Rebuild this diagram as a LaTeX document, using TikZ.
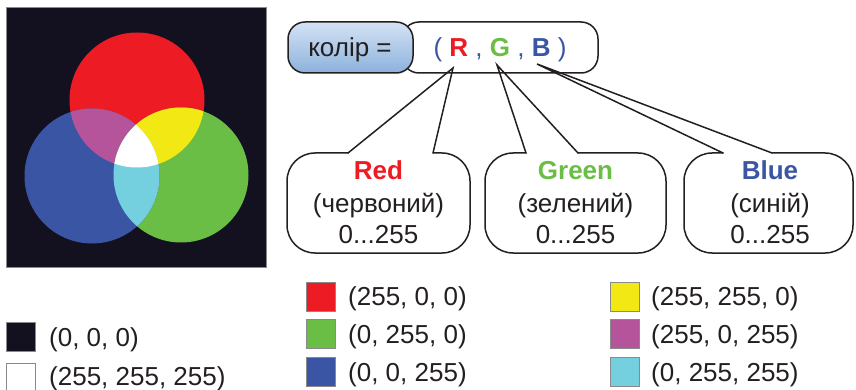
\documentclass[tikz,border=0pt]{standalone}
\usepackage{fontspec}
\setmainfont{Liberation Sans}
\definecolor{cred}{HTML}{ED1C24}
\definecolor{cgreen}{HTML}{6ABD45}
\definecolor{cblue}{HTML}{3A55A4}
\definecolor{cyel}{HTML}{F2E814}
\definecolor{cmag}{HTML}{B5549B}
\definecolor{ccyan}{HTML}{74CFDF}
\definecolor{cbg}{HTML}{13111F}
\definecolor{ink}{HTML}{231F20}
\definecolor{boxtop}{HTML}{D4E3F5}
\definecolor{boxbot}{HTML}{8CB1DC}
\definecolor{swb}{HTML}{8A8A8A}
\begin{document}
\begin{tikzpicture}[x=1pt,y=-1pt,
  font=\fontsize{26}{31}\selectfont,
  bubble/.style={draw=ink, line width=1.5pt, rounded corners=28pt, line cap=round},
  tail/.style={draw=ink, line width=1.5pt, line join=miter, line cap=round},
  txt/.style={inner sep=0pt, anchor=base, text=ink},
  sw/.style={draw=swb, line width=0.8pt, minimum width=29pt, minimum height=29pt, inner sep=0pt},
  lg/.style={inner sep=0pt, anchor=base west, text=ink},
  topbox/.style={draw=ink, line width=1.5pt, rounded corners=17pt, minimum height=51pt, inner sep=0pt}]
\useasboundingbox (0,0) rectangle (856,390);
% picture of RGB circles
\fill[cbg] (6,7) rectangle (266,267);
\draw[swb, line width=0.6pt] (6,7) rectangle (266,267);
\coordinate (cR) at (137,100);
\coordinate (cG) at (181,175);
\coordinate (cB) at (92,176);
\fill[cred] (cR) circle[radius=67.5pt];
\fill[cgreen] (cG) circle[radius=67.5pt];
\fill[cblue] (cB) circle[radius=67.5pt];
\begin{scope}
  \clip (cR) circle[radius=67.5pt];
  \fill[cmag] (cB) circle[radius=67.5pt];
  \fill[cyel] (cG) circle[radius=67.5pt];
\end{scope}
\begin{scope}
  \clip (cB) circle[radius=67.5pt];
  \fill[ccyan] (cG) circle[radius=67.5pt];
\end{scope}
\begin{scope}
  \clip (cR) circle[radius=67.5pt];
  \clip (cB) circle[radius=67.5pt];
  \fill[white] (cG) circle[radius=67.5pt];
\end{scope}
% top formula
\node[topbox, fill=white, minimum width=196pt] (vals) at (500,47.5) {};
\node[topbox, top color=boxtop, bottom color=boxbot, minimum width=125pt] (kolir) at (350.5,47.5) {};
\node[txt] (kolirtxt) at (350,57) {колір =};
\node[txt] (rgb) at (500,57) {\color{cblue}( \textcolor{cred}{\textbf{R}} , \textcolor{cgreen}{\textbf{G}} , \textbf{B} )};
\coordinate (ra) at (453,68);
\coordinate (ga) at (497,65);
\coordinate (ba) at (537,64);
% bubbles
\coordinate (rt1) at (348,153); \coordinate (rt2) at (433,153);
\coordinate (gt1) at (526,153); \coordinate (gt2) at (578,153);
\coordinate (bt1) at (723,153); \coordinate (bt2) at (772,153);
\draw[bubble] (rt1) -- (287,153) -- (287,253) -- (470,253) -- (470,153) -- (rt2);
\draw[tail] (rt1) -- (ra) -- (rt2);
\draw[bubble] (gt1) -- (485,153) -- (485,253) -- (666,253) -- (666,153) -- (gt2);
\draw[tail] (gt1) -- (ga) -- (gt2);
\draw[bubble] (bt1) -- (684,153) -- (684,253) -- (853,253) -- (853,153) -- (bt2);
\draw[tail] (bt1) -- (ba) -- (bt2);
\node[txt, text=cred, font=\fontsize{26}{31}\selectfont\bfseries] (r1) at (378.5,179) {Red};
\node[txt] (r2) at (378.5,212) {(червоний)};
\node[txt] (r3) at (378.5,243) {0...255};
\node[txt, text=cgreen, font=\fontsize{26}{31}\selectfont\bfseries] (g1) at (575.5,179) {Green};
\node[txt] (g2) at (575.5,212) {(зелений)};
\node[txt] (g3) at (575.5,243) {0...255};
\node[txt, text=cblue, font=\fontsize{26}{31}\selectfont\bfseries] (b1) at (770,179) {Blue};
\node[txt] (b2) at (770,212) {(синій)};
\node[txt] (b3) at (770,243) {0...255};
% legend
\node[sw, fill=cbg] (sk) at (21,337) {};
\node[lg] (lk) at (49,346) {(0, 0, 0)};
\node[sw, fill=white] (sw) at (21,377.5) {};
\node[lg] (lw) at (49,385) {(255, 255, 255)};
\node[sw, fill=cred] (sr) at (320.5,296.5) {};
\node[lg] (lr) at (348,305) {(255, 0, 0)};
\node[sw, fill=cgreen] (sg) at (320.5,334) {};
\node[lg] (lgr) at (348,343) {(0, 255, 0)};
\node[sw, fill=cblue] (sb) at (320.5,372) {};
\node[lg] (lb) at (348,381) {(0, 0, 255)};
\node[sw, fill=cyel] (sy) at (624.5,296.5) {};
\node[lg] (ly) at (651,305) {(255, 255, 0)};
\node[sw, fill=cmag] (sm) at (624.5,334) {};
\node[lg] (lm) at (651,343) {(255, 0, 255)};
\node[sw, fill=ccyan] (sc) at (624.5,372) {};
\node[lg] (lc) at (651,381) {(0, 255, 255)};
\end{tikzpicture}
\end{document}
